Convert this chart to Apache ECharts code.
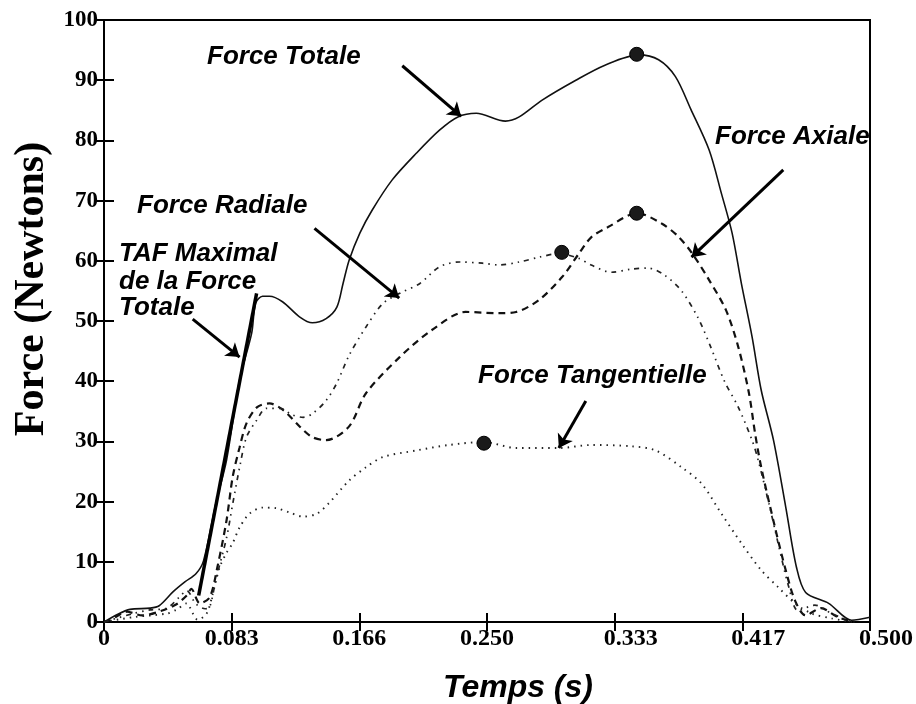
<!DOCTYPE html>
<html>
<head>
<meta charset="utf-8">
<script src="https://cdn.jsdelivr.net/npm/echarts@6/dist/echarts.min.js"></script>
<style>
html,body{margin:0;padding:0;background:#fff;}
#chart{width:916px;height:704px;}
</style>
</head>
<body>
<div id="chart"></div>
<script>
// ---- data (time in s, force in N) ----
const xTickLabels = ['0', '0.083', '0.166', '0.250', '0.333', '0.417', '0.500'];

const forceTotale = [[0,0],[0.009,1.3],[0.017,2.1],[0.030,2.3],[0.036,2.7],[0.045,5.0],[0.053,6.7],[0.060,8.0],[0.065,10.2],[0.073,19.7],[0.080,26.9],[0.0885,40.2],[0.0964,48],[0.099,53],[0.1035,54.1],[0.108,54.1],[0.1165,53.2],[0.1276,50.7],[0.136,49.7],[0.145,50.4],[0.152,52.3],[0.156,56.2],[0.160,60.1],[0.167,64.6],[0.175,68.4],[0.188,73.4],[0.204,77.9],[0.219,81.7],[0.231,83.9],[0.243,84.5],[0.262,83.2],[0.271,83.9],[0.286,86.7],[0.308,90.0],[0.327,92.5],[0.349,94.2],[0.362,93.4],[0.373,90.6],[0.383,85.2],[0.395,78.4],[0.403,71.2],[0.410,64.6],[0.416,56.3],[0.423,47.4],[0.429,38.5],[0.437,30.2],[0.445,19.1],[0.452,9.1],[0.458,4.9],[0.473,3.1],[0.488,0.3],[0.5,0.8]];

const forceAxiale = [[0,0],[0.004,0.3],[0.015,1.7],[0.025,1.1],[0.038,1.9],[0.047,2.9],[0.054,4.4],[0.057,5.5],[0.0625,3.1],[0.069,4.1],[0.074,9.1],[0.080,16.9],[0.084,24.1],[0.0885,29.0],[0.093,33.0],[0.100,35.7],[0.108,36.3],[0.117,35.2],[0.128,32.4],[0.136,30.7],[0.145,30.2],[0.160,32.5],[0.171,38.0],[0.193,44.0],[0.214,48.5],[0.236,51.5],[0.258,51.3],[0.269,51.5],[0.284,53.5],[0.299,57.3],[0.310,61.2],[0.318,63.9],[0.329,65.6],[0.348,67.9],[0.364,66.2],[0.375,64.0],[0.384,61.2],[0.395,56.8],[0.406,51.8],[0.414,45.7],[0.421,38.0],[0.425,31.3],[0.429,25.7],[0.438,15.7],[0.445,8.6],[0.451,3.6],[0.458,1.1],[0.468,2.3],[0.479,0.8],[0.49,0]];

const forceRadiale = [[0,0],[0.019,1.4],[0.030,2.0],[0.041,2.3],[0.049,4.1],[0.054,5.2],[0.060,3.0],[0.066,2.2],[0.069,2.5],[0.073,7],[0.080,14],[0.084,19.6],[0.089,26.3],[0.093,30.7],[0.0996,33.5],[0.106,35.5],[0.115,35.5],[0.123,34.4],[0.130,34.0],[0.136,34.6],[0.145,36.8],[0.152,39.7],[0.160,44.3],[0.171,49.0],[0.182,52.9],[0.193,54.6],[0.206,56.2],[0.219,59.0],[0.232,59.8],[0.247,59.6],[0.258,59.3],[0.271,59.8],[0.284,60.6],[0.297,61.2],[0.310,60.4],[0.318,59.3],[0.331,58.1],[0.344,58.6],[0.355,58.8],[0.366,57.6],[0.377,55.0],[0.388,50.4],[0.396,45.7],[0.405,40.0],[0.414,35.7],[0.423,30.2],[0.427,26.9],[0.434,19.7],[0.440,13.1],[0.447,5.8],[0.453,1.9],[0.464,2.8],[0.475,1.4],[0.488,0]];

const forceTangentielle = [[0,0],[0.019,0.8],[0.041,1.4],[0.047,2.0],[0.054,3.1],[0.058,1.4],[0.061,0.4],[0.067,1.4],[0.071,4.7],[0.0755,9.1],[0.080,11.5],[0.084,13.1],[0.0885,15.7],[0.095,18.0],[0.1035,19.0],[0.1126,18.9],[0.121,18.2],[0.130,17.5],[0.139,18.0],[0.147,19.8],[0.160,23.5],[0.171,25.7],[0.182,27.4],[0.204,28.5],[0.225,29.4],[0.248,29.9],[0.269,28.9],[0.297,28.9],[0.318,29.4],[0.344,29.2],[0.360,28.5],[0.377,25.7],[0.390,23.0],[0.403,18.0],[0.416,13.1],[0.429,8.6],[0.440,5.8],[0.451,3.1],[0.462,1.4],[0.475,0.6],[0.488,0]];

// peak markers
const peakMarkers = [[0.3477,94.3],[0.3477,67.9],[0.2988,61.4],[0.248,29.7]];

// tangent line (TAF maximal)
const tafLine = [[0.0618,4.4],[0.0996,54.6]];

// annotation arrows [start, end] in data units
const arrows = [
  [[0.1947,92.4],[0.2331,84.0]],
  [[0.1374,65.4],[0.1927,53.8]],
  [[0.0579,50.3],[0.0885,44.0]],
  [[0.4434,75.1],[0.3835,60.6]],
  [[0.3145,36.7],[0.2969,28.9]]
];

// ---- chart ----
const chart = echarts.init(document.getElementById('chart'), null, {renderer:'canvas'});
const ann = 'italic bold 26px "Liberation Sans", Arial, sans-serif';
function annText(text, x, y){
  return {type:'text', x:x, y:y, z:100, style:{text:text, font:ann, fill:'#000', align:'left', verticalAlign:'middle'}};
}
const shiftSet = {4:true,5:true,6:true};
const serif = '"Liberation Serif", "Times New Roman", serif';
const option = {
  backgroundColor:'#fff',
  animation:false,
  grid:{left:104, right:44, top:20, bottom:82, show:true, borderColor:'#000', borderWidth:2, backgroundColor:'transparent'},
  xAxis:[{
    type:'value', min:0, max:0.5, interval:1/12,
    axisLine:{show:true, lineStyle:{color:'#000', width:2}},
    axisTick:{show:true, inside:true, length:9, lineStyle:{color:'#000', width:2}},
    splitLine:{show:false},
    axisLabel:{
      margin:5, color:'#000', fontFamily:serif, fontWeight:'bold', fontSize:24,
      formatter:function(v){ const i=Math.round(v*12); const t=xTickLabels[i]; return shiftSet[i] ? '{s|'+t+'}' : t; },
      rich:{s:{padding:[0,0,0,32], color:'#000', fontFamily:serif, fontWeight:'bold', fontSize:24}}
    }
  },{
    type:'value', position:'top', min:0, max:0.5, interval:1/12,
    axisLine:{show:true, lineStyle:{color:'#000', width:2}},
    axisTick:{show:true, inside:true, length:9, lineStyle:{color:'#000', width:2}},
    axisLabel:{show:false}, splitLine:{show:false}
  }],
  yAxis:[{
    type:'value', min:0, max:100, interval:10,
    axisLine:{show:true, lineStyle:{color:'#000', width:2}},
    axisTick:{show:true, inside:true, length:10, lineStyle:{color:'#000', width:2}},
    splitLine:{show:false},
    axisLabel:{margin:6, color:'#000', fontFamily:serif, fontWeight:'bold', fontSize:23}
  },{
    type:'value', position:'right', min:0, max:100, interval:10,
    axisLine:{show:true, lineStyle:{color:'#000', width:2}},
    axisTick:{show:true, inside:true, length:9, lineStyle:{color:'#000', width:2}},
    axisLabel:{show:false}, splitLine:{show:false}
  }],
  series:[
    {name:'Force Totale', type:'line', data:forceTotale, smooth:0.3, showSymbol:false, lineStyle:{color:'#111', width:1.6, type:'solid'}},
    {name:'Force Axiale', type:'line', data:forceAxiale, smooth:0.3, showSymbol:false, lineStyle:{color:'#111', width:2.2, type:[7,5]}},
    {name:'Force Radiale', type:'line', data:forceRadiale, smooth:0.3, showSymbol:false, lineStyle:{color:'#222', width:1.7, type:[5,5,1.5,5,1.5,5]}},
    {name:'Force Tangentielle', type:'line', data:forceTangentielle, smooth:0.3, showSymbol:false, lineStyle:{color:'#222', width:1.9, type:[1.5,5]}},
    {name:'TAF', type:'line', data:tafLine, showSymbol:false, lineStyle:{color:'#000', width:3.5, type:'solid'}},
    {name:'peaks', type:'scatter', data:peakMarkers, symbol:'circle', symbolSize:14, itemStyle:{color:'#1a1a1a', opacity:1, borderColor:'#000', borderWidth:1}, z:10},
    {name:'arrows', type:'lines', coordinateSystem:'cartesian2d', polyline:false,
     data:arrows.map(function(a){return {coords:a};}),
     symbol:['none','arrow'], symbolSize:[1,13],
     lineStyle:{color:'#000', width:3, opacity:1}, z:20}
  ],
  graphic:[
    annText('Force Totale', 207, 57),
    annText('Force Radiale', 137, 206),
    annText('TAF Maximal', 119, 254),
    annText('de la Force', 119, 282),
    annText('Totale', 119, 308),
    annText('Force Axiale', 715, 137),
    annText('Force Tangentielle', 478, 376),
    {type:'text', x:518, y:688, z:100, style:{text:'Temps (s)', font:'italic bold 32px "Liberation Sans", Arial, sans-serif', fill:'#000', align:'center', verticalAlign:'middle'}},
    {type:'text', x:32, y:289, rotation:Math.PI/2, z:100, style:{text:'Force (Newtons)', font:'bold 42px ' + serif, fill:'#000', align:'center', verticalAlign:'middle'}}
  ]
};
chart.setOption(option);
</script>
</body>
</html>
